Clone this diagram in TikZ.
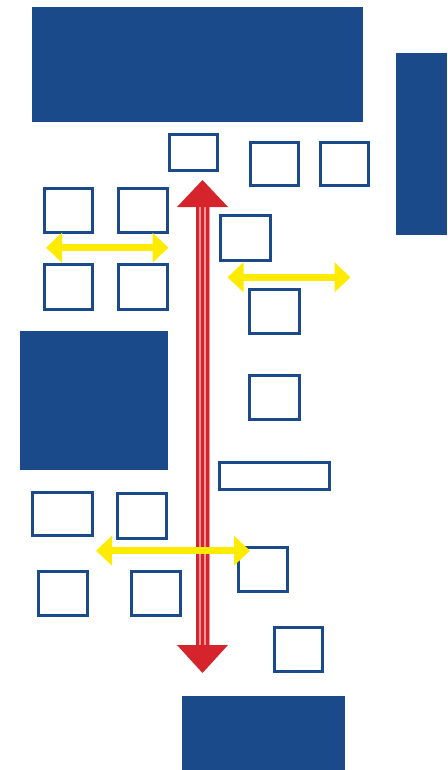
\documentclass[tikz,border=0pt]{standalone}
\usetikzlibrary{arrows.meta}
\definecolor{navy}{RGB}{27,74,138}
\definecolor{rred}{RGB}{214,36,44}
\definecolor{rpink}{RGB}{240,150,155}
\definecolor{yel}{RGB}{255,235,0}
\tikzset{
  solidbox/.style={fill=navy, draw=none},
  obox/.style={draw=navy, line width=3pt, fill=white, rectangle, inner sep=0pt, outer sep=0pt},
  yarrow/.style={draw=yel, line width=7pt, {Triangle[width=29pt,length=16pt]}-{Triangle[width=29pt,length=16pt]}},
}
\newcommand{\ob}[5]{% name, x1, y1, x2, y2 (outer extents)
  \node[obox, minimum width={#4-#2-3}, minimum height={#5-#3-3}] (#1) at ({(#2+#4)/2},{(#3+#5)/2}) {};}
\begin{document}
\begin{tikzpicture}[x=1pt,y=-1pt]
\useasboundingbox (0,0) rectangle (447,770);
% solid blocks
\fill[solidbox] (32,7) rectangle (363,122);
\fill[solidbox] (396,53) rectangle (447,235);
\fill[solidbox] (20,331) rectangle (168,470);
\fill[solidbox] (182,696) rectangle (345,770);
% outlined boxes
\ob{t1}{168}{133}{219}{172}
\ob{t2}{249}{141}{300}{187}
\ob{t3}{319}{141}{370}{187}
\ob{l1}{43}{187}{94}{234}
\ob{l2}{117}{187}{169}{234}
\ob{l3}{43}{263}{94}{311}
\ob{l4}{117}{263}{169}{311}
\ob{r1}{219}{214}{272}{262}
\ob{r2}{248}{288}{301}{335}
\ob{r3}{248}{374}{301}{421}
\ob{r4}{218}{461}{331}{491}
\ob{b1}{31}{491}{94}{537}
\ob{b2}{116}{492}{168}{540}
\ob{b3}{37}{570}{89}{617}
\ob{b4}{130}{570}{182}{617}
\ob{r5}{237}{546}{289}{593}
\ob{r6}{273}{626}{324}{673}
% red double arrow
\coordinate (rt) at (202.5,180);
\coordinate (rb) at (202.5,673);
\fill[rpink] (195.5,206) rectangle (209.5,646);
\foreach \xx in {197.6,202.6,207.6}
  \draw[rred, line width=3.3pt] (\xx,206) -- (\xx,646);
\fill[rred] (rt) -- (177,207) -- (228,207) -- cycle;
\fill[rred] (rb) -- (177,645) -- (228,645) -- cycle;
% yellow arrows
\coordinate (ya1) at (46,247.7);
\coordinate (ya2) at (168.5,247.7);
\coordinate (yb1) at (227.5,277.3);
\coordinate (yb2) at (350.5,277.3);
\coordinate (yc1) at (96,550.7);
\coordinate (yc2) at (250,550.7);
\draw[yarrow] (ya1) -- (ya2);
\draw[yarrow] (yb1) -- (yb2);
\draw[yarrow] (yc1) -- (yc2);
\end{tikzpicture}
\end{document}
